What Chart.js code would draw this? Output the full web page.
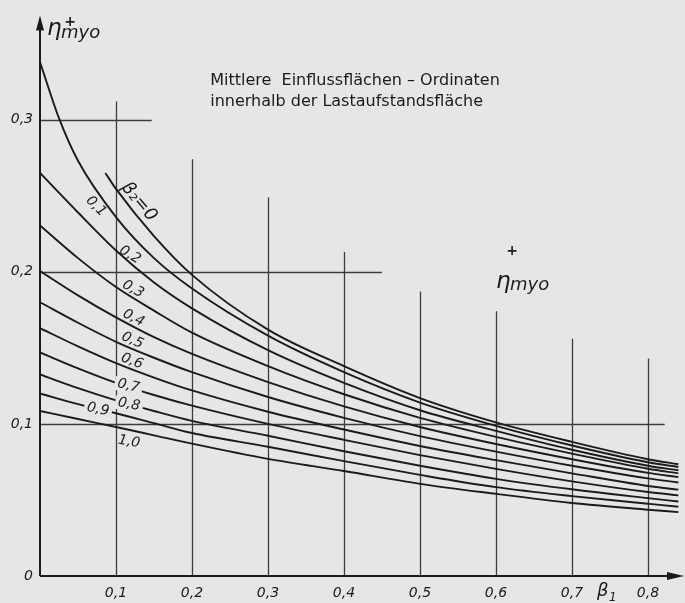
<!DOCTYPE html>
<html lang="de">
<head>
    <meta charset="UTF-8">
    <title>Mittlere Einflussflächen-Ordinaten</title>
    <style>
        body {
            margin: 0;
            padding: 0;
            background-color: #e6e6e4;
        }
        #wrap {
            width: 685px;
            height: 603px;
        }
    </style>
</head>
<body>
    <div id="wrap"><canvas id="chart" width="685" height="603"></canvas></div>

    <script src="https://cdn.jsdelivr.net/npm/chart.js"></script>
    <script>
        // beta1 stations
        const beta1 = [0, 0.025, 0.05, 0.1, 0.15, 0.2, 0.3, 0.4, 0.5, 0.6, 0.7, 0.8, 0.84];
        // the beta2 = 0 curve only starts below the title
        const beta1Top = [0.086, 0.1, 0.15, 0.2, 0.3, 0.4, 0.5, 0.6, 0.7, 0.8, 0.84];

        const beta2Labels = ['β₂=0', '0,1', '0,2', '0,3', '0,4', '0,5', '0,6', '0,7', '0,8', '0,9', '1,0'];

        const eta00 = [0.265, 0.2545, 0.2235, 0.198, 0.162, 0.138, 0.117, 0.101, 0.0882, 0.0768, 0.0735];
        const eta01 = [0.338, 0.301, 0.273, 0.236, 0.209, 0.189, 0.158, 0.134, 0.114, 0.0987, 0.0858, 0.0748, 0.0717];
        const eta02 = [0.265, null, 0.239, 0.214, 0.193, 0.176, 0.1485, 0.127, 0.109, 0.0954, 0.083, 0.0725, 0.0695];
        const eta03 = [0.2305, null, 0.209, 0.190, 0.1745, 0.160, 0.138, 0.1195, 0.104, 0.0915, 0.0805, 0.0705, 0.0675];
        const eta04 = [0.2005, null, 0.1845, 0.170, 0.157, 0.146, 0.1275, 0.1115, 0.098, 0.0868, 0.0768, 0.0678, 0.065];
        const eta05 = [0.180, null, 0.1665, 0.154, 0.1435, 0.134, 0.1177, 0.104, 0.092, 0.0818, 0.0725, 0.0642, 0.0615];
        const eta06 = [0.163, null, 0.151, 0.140, 0.1305, 0.122, 0.108, 0.0963, 0.0855, 0.0762, 0.0675, 0.0592, 0.0568];
        const eta07 = [0.147, null, 0.1365, 0.127, 0.119, 0.112, 0.100, 0.0895, 0.0795, 0.0704, 0.0622, 0.0552, 0.053];
        const eta08 = [0.1325, null, 0.1235, 0.1155, 0.1085, 0.102, 0.0922, 0.082, 0.0725, 0.0639, 0.057, 0.0512, 0.049];
        const eta09 = [0.120, null, 0.113, 0.107, 0.1005, 0.094, 0.085, 0.0755, 0.0665, 0.0584, 0.0525, 0.0475, 0.0455];
        const eta10 = [0.1085, null, 0.1032, 0.098, 0.0925, 0.087, 0.077, 0.069, 0.0606, 0.054, 0.048, 0.0436, 0.042];

        const xTicks = [0.1, 0.2, 0.3, 0.4, 0.5, 0.6, 0.7, 0.8];
        const yTicks = [0, 0.1, 0.2, 0.3];

        const ink = '#1b1b1b';
        const paper = '#e6e6e4';

        // how far each grid line is drawn (the drawing leaves room for the texts)
        const vGrid = [[0.1, 0.312], [0.2, 0.274], [0.3, 0.249], [0.4, 0.213], [0.5, 0.187], [0.6, 0.174], [0.7, 0.156], [0.8, 0.143]];
        const hGrid = [[0.1, 0.822], [0.2, 0.45], [0.3, 0.147]];

        // curve labels: [beta1, eta, angle, cut the line]
        const labelSpots = [
            [0.130, 0.2460, 50, false],
            [0.0737, 0.2431, 45, false],
            [0.1184, 0.2111, 31, false],
            [0.1224, 0.1885, 29, false],
            [0.1230, 0.1696, 27, false],
            [0.1217, 0.1549, 24, false],
            [0.1211, 0.1412, 21, false],
            [0.1164, 0.1250, 13, true],
            [0.1171, 0.1128, 11, true],
            [0.0763, 0.1095, 12, true],
            [0.1171, 0.0882, 10, false]
        ];

        const sets = [
            [beta1Top, eta00], [beta1, eta01], [beta1, eta02], [beta1, eta03], [beta1, eta04], [beta1, eta05],
            [beta1, eta06], [beta1, eta07], [beta1, eta08], [beta1, eta09], [beta1, eta10]
        ];

        const datasets = sets.map((s, i) => ({
            label: beta2Labels[i],
            data: s[0].map((x, k) => ({ x: x, y: s[1][k] })).filter(p => p.y !== null),
            borderColor: ink,
            borderWidth: 1.9,
            pointRadius: 0,
            fill: false,
            cubicInterpolationMode: 'monotone'
        }));

        function fmt(v) {
            return v === 0 ? '0' : v.toFixed(1).replace('.', ',');
        }

        const drawing = {
            id: 'drawing',
            beforeDatasetsDraw(chart) {
                const ctx = chart.ctx;
                const xs = chart.scales.x, ys = chart.scales.y;
                const a = chart.chartArea;
                ctx.save();
                ctx.strokeStyle = '#3c3c3c';
                ctx.lineWidth = 1.3;
                vGrid.forEach(g => {
                    const px = Math.round(xs.getPixelForValue(g[0])) + 0.5;
                    ctx.beginPath();
                    ctx.moveTo(px, ys.getPixelForValue(0));
                    ctx.lineTo(px, ys.getPixelForValue(g[1]));
                    ctx.stroke();
                });
                hGrid.forEach(g => {
                    const py = Math.round(ys.getPixelForValue(g[0])) + 0.5;
                    ctx.beginPath();
                    ctx.moveTo(xs.getPixelForValue(0), py);
                    ctx.lineTo(xs.getPixelForValue(g[1]), py);
                    ctx.stroke();
                });
                // axes with arrow heads
                ctx.strokeStyle = ink;
                ctx.fillStyle = ink;
                ctx.lineWidth = 2;
                const x0 = xs.getPixelForValue(0), y0 = ys.getPixelForValue(0);
                ctx.beginPath();
                ctx.moveTo(x0, y0);
                ctx.lineTo(x0, a.top + 10);
                ctx.moveTo(x0, y0);
                ctx.lineTo(a.right - 10, y0);
                ctx.stroke();
                ctx.beginPath();
                ctx.moveTo(x0, a.top);
                ctx.lineTo(x0 - 4, a.top + 15);
                ctx.lineTo(x0 + 4, a.top + 15);
                ctx.closePath();
                ctx.fill();
                ctx.beginPath();
                ctx.moveTo(a.right, y0);
                ctx.lineTo(a.right - 17, y0 - 4);
                ctx.lineTo(a.right - 17, y0 + 4);
                ctx.closePath();
                ctx.fill();
                ctx.restore();
            },
            afterDraw(chart) {
                const ctx = chart.ctx;
                const xs = chart.scales.x, ys = chart.scales.y;
                const X = v => xs.getPixelForValue(v), Y = v => ys.getPixelForValue(v);
                ctx.save();
                ctx.fillStyle = ink;
                ctx.textBaseline = 'middle';
                ctx.textAlign = 'center';
                labelSpots.forEach((s, i) => {
                    ctx.save();
                    ctx.font = i === 0 ? 'italic 18px "DejaVu Sans"' : 'italic 14px "DejaVu Sans"';
                    ctx.translate(X(s[0]), Y(s[1]));
                    ctx.rotate(s[2] * Math.PI / 180);
                    const w = ctx.measureText(beta2Labels[i]).width;
                    if (s[3]) {
                        ctx.fillStyle = paper;
                        ctx.fillRect(-w / 2 - 3, -7, w + 6, 14);
                        ctx.fillStyle = ink;
                    }
                    ctx.fillText(beta2Labels[i], 0, 0);
                    ctx.restore();
                });

                // title
                ctx.textAlign = 'left';
                ctx.textBaseline = 'alphabetic';
                ctx.font = '16px "DejaVu Sans"';
                ctx.fillText('Mittlere  Einflussflächen – Ordinaten', X(0.224), Y(0.3229));
                ctx.fillText('innerhalb der Lastaufstandsfläche', X(0.224), Y(0.3092));

                // eta+myo on the axis and on the curves
                function etaMyo(bx, by, mx, my, px, py) {
                    ctx.font = 'italic 23px "DejaVu Sans"';
                    ctx.fillText('η', X(bx), Y(by));
                    ctx.font = 'italic 18px "DejaVu Sans"';
                    ctx.fillText('myo', X(mx), Y(my));
                    ctx.font = 'bold 14px "DejaVu Sans"';
                    ctx.textAlign = 'center';
                    ctx.fillText('+', X(px), Y(py));
                    ctx.textAlign = 'left';
                }
                etaMyo(0.0092, 0.3556, 0.0276, 0.3536, 0.0395, 0.3614);
                etaMyo(0.6000, 0.1895, 0.6184, 0.1882, 0.6211, 0.2111);

                // beta1 at the abscissa
                ctx.font = 'italic 18px "DejaVu Sans"';
                ctx.fillText('β', X(0.7329), Y(-0.0131));
                ctx.font = 'italic 12px "DejaVu Sans"';
                ctx.fillText('1', X(0.7487), Y(-0.0163));
                ctx.restore();
            }
        };

        new Chart(document.getElementById('chart'), {
            type: 'line',
            data: { datasets },
            plugins: [drawing],
            options: {
                responsive: false,
                animation: false,
                devicePixelRatio: 1,
                layout: { padding: { left: 0, right: 1, top: 12, bottom: 0 } },
                plugins: { legend: { display: false }, tooltip: { enabled: false } },
                scales: {
                    x: {
                        type: 'linear',
                        min: 0,
                        max: 0.8474,
                        grid: { display: false, drawTicks: false },
                        border: { display: false },
                        afterFit: s => { s.height = 27; },
                        afterBuildTicks: s => { s.ticks = xTicks.map(v => ({ value: v })); },
                        ticks: {
                            padding: 9,
                            color: ink,
                            maxRotation: 0,
                            font: { family: 'DejaVu Sans', style: 'italic', size: 14 },
                            callback: v => fmt(v)
                        }
                    },
                    y: {
                        type: 'linear',
                        min: 0,
                        max: 0.3686,
                        grid: { display: false, drawTicks: false },
                        border: { display: false },
                        afterFit: s => { s.width = 40; },
                        afterBuildTicks: s => { s.ticks = yTicks.map(v => ({ value: v })); },
                        ticks: {
                            padding: 7,
                            color: ink,
                            font: { family: 'DejaVu Sans', style: 'italic', size: 14 },
                            callback: v => fmt(v)
                        }
                    }
                }
            }
        });
    </script>
</body>
</html>
